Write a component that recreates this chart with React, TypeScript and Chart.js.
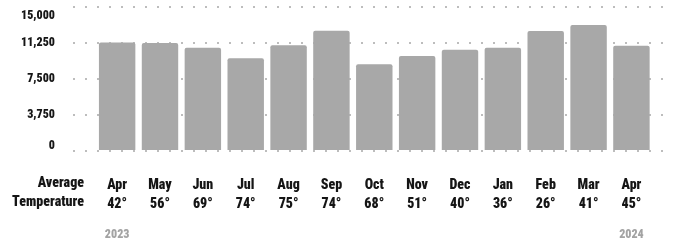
import React, { useEffect, useRef } from "react";
import { Chart, registerables } from "chart.js";

Chart.register(...registerables);

const months = ["Apr", "May", "Jun", "Jul", "Aug", "Sep", "Oct", "Nov", "Dec", "Jan", "Feb", "Mar", "Apr"];
const temps = ["42°", "56°", "69°", "74°", "75°", "74°", "68°", "51°", "40°", "36°", "26°", "41°", "45°"];
const values = [11300, 11250, 10760, 9650, 11010, 12530, 9030, 9900, 10550, 10760, 12500, 13125, 10970];
const yTicks = [0, 3750, 7500, 11250, 15000];
const years = ["2023", "2024"];
const rowTitle = ["Average", "Temperature"];

const FONT = '"Roboto Condensed", "Liberation Sans Narrow", sans-serif';
const WEIGHT = "900";

const extraText = {
  id: "extraText",
  afterDraw(chart: any) {
    const { ctx, chartArea } = chart;
    const xs = chart.scales.x;
    const ys = chart.scales.y;
    const top = xs.top;
    ctx.save();
    ctx.fillStyle = "#151515";
    // y-axis labels (kept inside the plot's vertical extent, like the reference)
    ctx.font = `${WEIGHT} 12px ${FONT}`;
    ctx.textAlign = "right";
    ctx.textBaseline = "middle";
    yTicks.forEach((v) => {
      const p = ys.getPixelForValue(v);
      const y = Math.min(Math.max(p, chartArea.top + 9), chartArea.bottom - 5);
      ctx.fillText(v.toLocaleString("en-US"), ys.right - 18, y);
    });
    ctx.font = `${WEIGHT} 14px ${FONT}`;
    ctx.fillText(rowTitle[0], 84, top + 32);
    ctx.fillText(rowTitle[1], 84, top + 51);
    ctx.fillStyle = "#a3a3a3";
    ctx.font = `${WEIGHT} 12px ${FONT}`;
    ctx.textAlign = "center";
    ctx.fillText(years[0], xs.getPixelForValue(0), top + 84);
    ctx.fillText(years[1], xs.getPixelForValue(months.length - 1), top + 84);
    ctx.restore();
  },
};

export default function App() {
  const ref = useRef<HTMLCanvasElement | null>(null);
  useEffect(() => {
    if (!ref.current) return;
    const chart = new Chart(ref.current, {
      type: "bar",
      data: {
        datasets: [
          {
            data: values.map((v, i) => ({ x: i, y: v })),
            backgroundColor: "#a8a8a8",
            borderRadius: 2,
            barPercentage: 0.85,
            categoryPercentage: 1,
          },
        ],
      },
      options: {
        animation: false,
        responsive: false,
        devicePixelRatio: 1,
        layout: { padding: { top: 7, right: 8, left: 0, bottom: 0 } },
        plugins: { legend: { display: false }, tooltip: { enabled: false } },
        scales: {
          x: {
            type: "linear",
            offset: false,
            min: -1.03,
            max: 12.9,
            grid: { display: false, offset: false },
            border: { display: false },
            afterBuildTicks: (s: any) => {
              s.ticks = months.map((_, i) => ({ value: i }));
            },
            afterFit: (s: any) => {
              s.height = 90;
              s.paddingLeft = 0;
              s.paddingRight = 0;
            },
            ticks: {
              padding: 17,
              color: "#151515",
              font: { family: FONT, size: 14, weight: WEIGHT, lineHeight: 19 / 14 },
              autoSkip: false,
              maxRotation: 0,
              callback: (v: any) => {
                const i = Math.round(Number(v));
                return [months[i], temps[i]];
              },
            },
          },
          y: {
            min: 0,
            max: 15000,
            afterBuildTicks: (s: any) => {
              s.ticks = yTicks.map((v) => ({ value: v }));
            },
            afterFit: (s: any) => {
              s.width = 73;
              s.paddingTop = 0;
              s.paddingBottom = 0;
            },
            grid: { color: "#bdbdbd", lineWidth: 2, drawTicks: false },
            border: { display: false, dash: [2, 10] },
            ticks: { display: false },
          },
        },
      },
      plugins: [extraText],
    });
    return () => chart.destroy();
  }, []);
  return (
    <div style={{ position: "fixed", left: 0, top: 0, width: 678, height: 241, background: "#fff" }}>
      <canvas ref={ref} width={678} height={241} />
    </div>
  );
}
